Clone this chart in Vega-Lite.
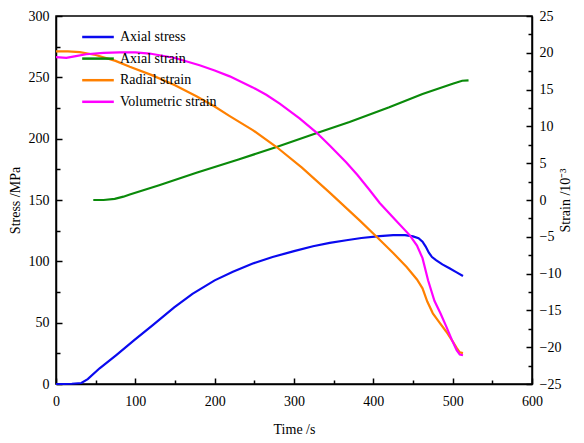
{
  "$schema": "https://vega.github.io/schema/vega-lite/v6.json",
  "autosize": "none",
  "width": 476,
  "height": 368,
  "padding": {"left": 56, "top": 16, "right": 52, "bottom": 59},
  "background": "white",
  "config": {
    "view": {"stroke": "black", "strokeWidth": 1.5},
    "font": "Liberation Serif",
    "axis": {
      "zindex": 1,
      "domainColor": "black", "domainWidth": 1.5,
      "ticks": true,
      "tickColor": "black", "tickWidth": 1.5,
      "labelFont": "Liberation Serif", "labelFontSize": 14, "labelColor": "black",
      "titleFont": "Liberation Serif", "titleFontSize": 14, "titleFontWeight": "normal", "titleColor": "black",
      "grid": false
    },
    "legend": {"labelFont": "Liberation Serif", "labelFontSize": 14, "labelColor": "black"}
  },
  "data": {"values": [
    {"series": "Axial stress", "t": 0, "v": 0},
    {"series": "Axial stress", "t": 10, "v": 0},
    {"series": "Axial stress", "t": 20, "v": 0.2},
    {"series": "Axial stress", "t": 32, "v": 0.8},
    {"series": "Axial stress", "t": 40, "v": 4},
    {"series": "Axial stress", "t": 55, "v": 12.8},
    {"series": "Axial stress", "t": 76, "v": 23.6},
    {"series": "Axial stress", "t": 99, "v": 35.9},
    {"series": "Axial stress", "t": 122, "v": 48},
    {"series": "Axial stress", "t": 149, "v": 62.5},
    {"series": "Axial stress", "t": 172, "v": 73.5},
    {"series": "Axial stress", "t": 200, "v": 84.5},
    {"series": "Axial stress", "t": 223, "v": 91.6},
    {"series": "Axial stress", "t": 248, "v": 98.2},
    {"series": "Axial stress", "t": 273, "v": 103.5},
    {"series": "Axial stress", "t": 300, "v": 108.3},
    {"series": "Axial stress", "t": 324, "v": 112.3},
    {"series": "Axial stress", "t": 345, "v": 115},
    {"series": "Axial stress", "t": 366, "v": 117.2},
    {"series": "Axial stress", "t": 385, "v": 119},
    {"series": "Axial stress", "t": 408, "v": 120.6},
    {"series": "Axial stress", "t": 425, "v": 121.4},
    {"series": "Axial stress", "t": 440, "v": 121.4},
    {"series": "Axial stress", "t": 450, "v": 120.3},
    {"series": "Axial stress", "t": 457, "v": 118.8},
    {"series": "Axial stress", "t": 462, "v": 116},
    {"series": "Axial stress", "t": 466, "v": 112},
    {"series": "Axial stress", "t": 470, "v": 107},
    {"series": "Axial stress", "t": 474, "v": 103.5},
    {"series": "Axial stress", "t": 479, "v": 101},
    {"series": "Axial stress", "t": 487, "v": 97.5},
    {"series": "Axial stress", "t": 496, "v": 94.3},
    {"series": "Axial stress", "t": 505, "v": 91},
    {"series": "Axial stress", "t": 513, "v": 88},
    {"series": "Axial strain", "t": 47, "v": 0},
    {"series": "Axial strain", "t": 60, "v": 0},
    {"series": "Axial strain", "t": 74, "v": 0.15},
    {"series": "Axial strain", "t": 85, "v": 0.45},
    {"series": "Axial strain", "t": 93, "v": 0.75},
    {"series": "Axial strain", "t": 130, "v": 2.0},
    {"series": "Axial strain", "t": 177, "v": 3.7},
    {"series": "Axial strain", "t": 230, "v": 5.5},
    {"series": "Axial strain", "t": 278, "v": 7.2},
    {"series": "Axial strain", "t": 328, "v": 9.06},
    {"series": "Axial strain", "t": 370, "v": 10.6},
    {"series": "Axial strain", "t": 420, "v": 12.6},
    {"series": "Axial strain", "t": 462, "v": 14.4},
    {"series": "Axial strain", "t": 500, "v": 15.8},
    {"series": "Axial strain", "t": 512, "v": 16.2},
    {"series": "Axial strain", "t": 520, "v": 16.25},
    {"series": "Radial strain", "t": 0, "v": 20.2},
    {"series": "Radial strain", "t": 15, "v": 20.2},
    {"series": "Radial strain", "t": 30, "v": 20.1},
    {"series": "Radial strain", "t": 50, "v": 19.7},
    {"series": "Radial strain", "t": 75, "v": 18.9},
    {"series": "Radial strain", "t": 93, "v": 18.1},
    {"series": "Radial strain", "t": 120, "v": 17.0},
    {"series": "Radial strain", "t": 150, "v": 15.6},
    {"series": "Radial strain", "t": 177, "v": 14.1},
    {"series": "Radial strain", "t": 200, "v": 12.7},
    {"series": "Radial strain", "t": 219, "v": 11.4},
    {"series": "Radial strain", "t": 248, "v": 9.5},
    {"series": "Radial strain", "t": 278, "v": 7.2},
    {"series": "Radial strain", "t": 310, "v": 4.4},
    {"series": "Radial strain", "t": 345, "v": 1.0},
    {"series": "Radial strain", "t": 383, "v": -2.8},
    {"series": "Radial strain", "t": 408, "v": -5.4},
    {"series": "Radial strain", "t": 425, "v": -7.2},
    {"series": "Radial strain", "t": 442, "v": -9.1},
    {"series": "Radial strain", "t": 455, "v": -10.8},
    {"series": "Radial strain", "t": 462, "v": -12.0},
    {"series": "Radial strain", "t": 468, "v": -13.8},
    {"series": "Radial strain", "t": 475, "v": -15.4},
    {"series": "Radial strain", "t": 483, "v": -16.6},
    {"series": "Radial strain", "t": 492, "v": -17.9},
    {"series": "Radial strain", "t": 500, "v": -19.2},
    {"series": "Radial strain", "t": 505, "v": -20.1},
    {"series": "Radial strain", "t": 509, "v": -20.7},
    {"series": "Radial strain", "t": 513, "v": -20.8},
    {"series": "Volumetric strain", "t": 0, "v": 19.4},
    {"series": "Volumetric strain", "t": 13, "v": 19.3},
    {"series": "Volumetric strain", "t": 25, "v": 19.55},
    {"series": "Volumetric strain", "t": 38, "v": 19.8},
    {"series": "Volumetric strain", "t": 60, "v": 20.0},
    {"series": "Volumetric strain", "t": 80, "v": 20.07},
    {"series": "Volumetric strain", "t": 100, "v": 20.05},
    {"series": "Volumetric strain", "t": 118, "v": 19.9},
    {"series": "Volumetric strain", "t": 150, "v": 19.3},
    {"series": "Volumetric strain", "t": 181, "v": 18.3},
    {"series": "Volumetric strain", "t": 200, "v": 17.6},
    {"series": "Volumetric strain", "t": 219, "v": 16.8},
    {"series": "Volumetric strain", "t": 248, "v": 15.3},
    {"series": "Volumetric strain", "t": 265, "v": 14.3},
    {"series": "Volumetric strain", "t": 282, "v": 13.1},
    {"series": "Volumetric strain", "t": 307, "v": 11.1},
    {"series": "Volumetric strain", "t": 328, "v": 9.2},
    {"series": "Volumetric strain", "t": 345, "v": 7.4},
    {"series": "Volumetric strain", "t": 366, "v": 5.1},
    {"series": "Volumetric strain", "t": 380, "v": 3.4},
    {"series": "Volumetric strain", "t": 395, "v": 1.4},
    {"series": "Volumetric strain", "t": 408, "v": -0.4},
    {"series": "Volumetric strain", "t": 427, "v": -2.6},
    {"series": "Volumetric strain", "t": 446, "v": -4.8},
    {"series": "Volumetric strain", "t": 455, "v": -6.2},
    {"series": "Volumetric strain", "t": 462, "v": -7.9},
    {"series": "Volumetric strain", "t": 469, "v": -10.9},
    {"series": "Volumetric strain", "t": 477, "v": -13.7},
    {"series": "Volumetric strain", "t": 485, "v": -15.5},
    {"series": "Volumetric strain", "t": 492, "v": -17.2},
    {"series": "Volumetric strain", "t": 499, "v": -19.0},
    {"series": "Volumetric strain", "t": 505, "v": -20.4},
    {"series": "Volumetric strain", "t": 509, "v": -21.0},
    {"series": "Volumetric strain", "t": 513, "v": -21.1}
  ]},
  "encoding": {
    "x": {
      "field": "t", "type": "quantitative",
      "scale": {"domain": [0, 600], "nice": false},
      "axis": {
        "title": "Time /s",
        "values": [0, 50, 100, 150, 200, 250, 300, 350, 400, 450, 500, 550, 600],
        "labelExpr": "datum.value % 100 === 0 ? datum.label : ''",
        "tickSize": {"condition": {"test": "datum.value % 100 === 0", "value": -6}, "value": -4},
        "labelPadding": 16,
        "titlePadding": 14,
        "labelFlush": false
      }
    },
    "color": {
      "field": "series", "type": "nominal",
      "scale": {
        "domain": ["Axial stress", "Axial strain", "Radial strain", "Volumetric strain"],
        "range": ["#0a0aef", "#0a8a0a", "#ff8000", "#ff00ff"]
      },
      "legend": {
        "title": null,
        "orient": "none",
        "legendX": 35,
        "legendY": 14,
        "padding": 0,
        "symbolType": "M-5,0H5",
        "symbolSize": 40,
        "symbolStrokeWidth": 2.5,
        "symbolFillColor": "transparent",
        "labelOffset": 15,
        "rowPadding": 7.6
      }
    }
  },
  "layer": [
    {
      "transform": [{"filter": "datum.series === 'Axial stress'"}],
      "mark": {"type": "line", "strokeWidth": 2.2},
      "encoding": {
        "y": {
          "field": "v", "type": "quantitative",
          "scale": {"domain": [0, 300], "nice": false},
          "axis": {
            "title": "Stress /MPa", "orient": "left",
            "values": [0, 25, 50, 75, 100, 125, 150, 175, 200, 225, 250, 275, 300],
            "labelExpr": "datum.value % 50 === 0 ? datum.label : ''",
            "tickSize": {"condition": {"test": "datum.value % 50 === 0", "value": -6}, "value": -4},
            "labelPadding": 13,
            "titlePadding": 6,
            "labelFlush": false
          }
        }
      }
    },
    {
      "transform": [{"filter": "datum.series !== 'Axial stress'"}],
      "mark": {"type": "line", "strokeWidth": 2.2},
      "encoding": {
        "y": {
          "field": "v", "type": "quantitative",
          "scale": {"domain": [-25, 25], "nice": false},
          "axis": {
            "title": "Strain /10⁻³", "orient": "right",
            "titleAngle": -90,
            "values": [-25, -22.5, -20, -17.5, -15, -12.5, -10, -7.5, -5, -2.5, 0, 2.5, 5, 7.5, 10, 12.5, 15, 17.5, 20, 22.5, 25],
            "labelExpr": "datum.value % 5 === 0 ? datum.label : ''",
            "tickSize": {"condition": {"test": "datum.value % 5 === 0", "value": -6}, "value": -4},
            "labelPadding": 13,
            "titlePadding": 12,
            "labelFlush": false
          }
        }
      }
    }
  ],
  "resolve": {"scale": {"y": "independent"}}
}
